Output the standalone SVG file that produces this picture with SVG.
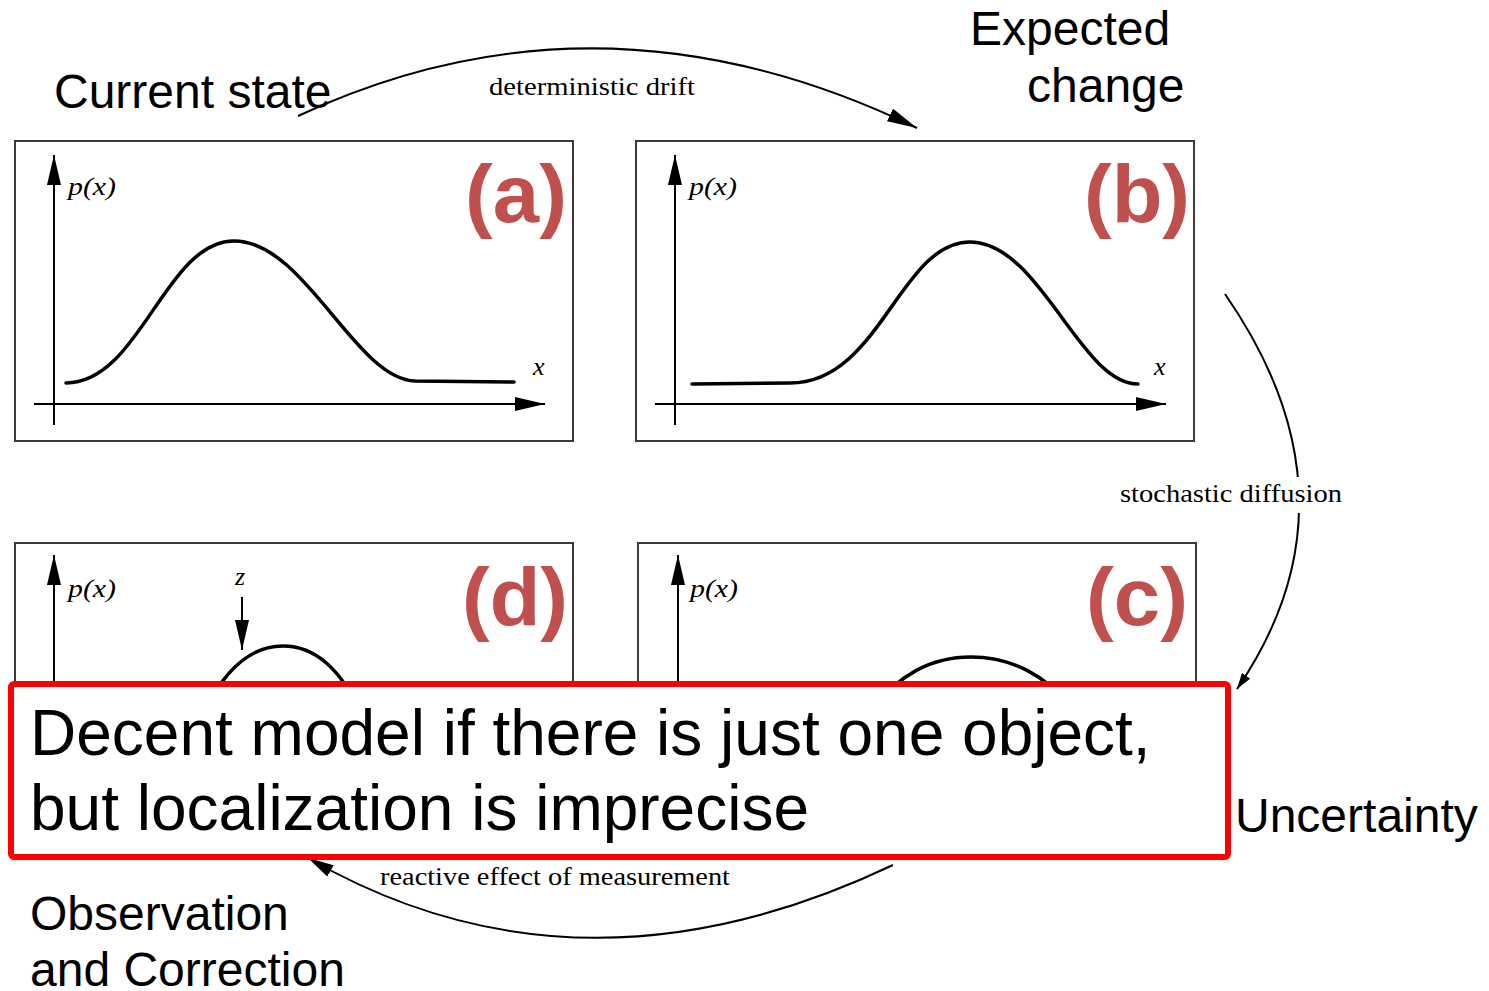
<svg xmlns="http://www.w3.org/2000/svg" width="1489" height="991" viewBox="0 0 1489 991">
<style>
.bg{fill:#ffffff}
.panel{fill:#ffffff;stroke:#3a3a3a;stroke-width:2}
.axis{fill:none;stroke:#000;stroke-width:2}
.curve{fill:none;stroke:#000;stroke-width:3.5;stroke-linecap:round}
.arc{fill:none;stroke:#000;stroke-width:2}
.big{font-family:"Liberation Sans",Arial,sans-serif;font-size:48px;fill:#000}
.tag{font-family:"Liberation Sans",Arial,sans-serif;font-size:82px;font-weight:bold;fill:#C0504D}
.math{font-family:"Liberation Serif","Times New Roman",serif;font-style:italic;font-size:26px;fill:#000}
.arclabel{font-family:"Liberation Serif","Times New Roman",serif;font-size:26px;fill:#000}
.note{font-family:"Liberation Sans",Arial,sans-serif;font-size:64px;fill:#000}
</style>
<defs>
<marker id="ah" markerUnits="userSpaceOnUse" viewBox="0 0 30 14" refX="30" refY="7" markerWidth="30" markerHeight="14" orient="auto"><path d="M0,0 L30,7 L0,14 z" fill="#000"/></marker>
<marker id="ahs" markerUnits="userSpaceOnUse" viewBox="0 0 16 10" refX="16" refY="5" markerWidth="16" markerHeight="10" orient="auto"><path d="M0,0 L16,5 L0,10 z" fill="#000"/></marker>
<marker id="ahm" markerUnits="userSpaceOnUse" viewBox="0 0 26 13" refX="26" refY="6.5" markerWidth="26" markerHeight="13" orient="auto"><path d="M0,0 L26,6.5 L0,13 z" fill="#000"/></marker>
</defs>
<rect class="bg" x="0" y="0" width="1489" height="991"/>

<g id="panel-a">
<rect class="panel" x="15" y="141" width="558" height="300"/>
<line class="axis" x1="54" y1="425" x2="54" y2="155" marker-end="url(#ah)"/>
<line class="axis" x1="34" y1="404" x2="545" y2="404" marker-end="url(#ah)"/>
<path class="curve" d="M66,383 C140,383 165,241 234,241 C305,241 355,379 415,381 L514,382"/>
<text class="math" x="68" y="195" textLength="48" lengthAdjust="spacingAndGlyphs">p(x)</text>
<text class="math" x="533" y="375">x</text>
<text class="tag" x="465" y="222" textLength="102" lengthAdjust="spacingAndGlyphs">(a)</text>
</g>

<g id="panel-b">
<rect class="panel" x="636" y="141" width="558" height="300"/>
<line class="axis" x1="675" y1="425" x2="675" y2="155" marker-end="url(#ah)"/>
<line class="axis" x1="655" y1="404" x2="1166" y2="404" marker-end="url(#ah)"/>
<path class="curve" d="M692,384 L790,383 C880,383 900,242 970,242 C1040,242 1080,384 1138,384"/>
<text class="math" x="689" y="195" textLength="48" lengthAdjust="spacingAndGlyphs">p(x)</text>
<text class="math" x="1154" y="375">x</text>
<text class="tag" x="1084" y="222" textLength="106" lengthAdjust="spacingAndGlyphs">(b)</text>
</g>

<g id="panel-d">
<rect class="panel" x="15" y="543" width="558" height="300"/>
<line class="axis" x1="54" y1="827" x2="54" y2="555" marker-end="url(#ah)"/>
<path class="curve" d="M205,710 C225,670 250,646 283,646 C316,646 340,670 360,710"/>
<line class="axis" x1="242" y1="597" x2="242" y2="650" marker-end="url(#ah)"/>
<text class="math" x="68" y="597" textLength="48" lengthAdjust="spacingAndGlyphs">p(x)</text>
<text class="math" x="235" y="585">z</text>
<text class="tag" x="462" y="625" textLength="106" lengthAdjust="spacingAndGlyphs">(d)</text>
</g>

<g id="panel-c">
<rect class="panel" x="638" y="543" width="558" height="300"/>
<line class="axis" x1="678" y1="827" x2="678" y2="555" marker-end="url(#ah)"/>
<path class="curve" d="M870,710 C900,675 930,657 971,657 C1012,657 1045,675 1075,710"/>
<text class="math" x="690" y="597" textLength="48" lengthAdjust="spacingAndGlyphs">p(x)</text>
<text class="tag" x="1086" y="625" textLength="102" lengthAdjust="spacingAndGlyphs">(c)</text>
</g>

<g id="connectors">
<path class="arc" d="M298,116 Q600,-25 917,128" marker-end="url(#ah)"/>
<text class="arclabel" x="489" y="95" textLength="206" lengthAdjust="spacingAndGlyphs">deterministic drift</text>
<path class="arc" d="M1225,294 Q1367,499 1237,689" marker-end="url(#ahs)"/>
<rect x="1112" y="477" width="236" height="36" fill="#fff"/>
<text class="arclabel" x="1120" y="502" textLength="222" lengthAdjust="spacingAndGlyphs">stochastic diffusion</text>
<path class="arc" d="M893,865 Q579,1014 308,858" marker-end="url(#ahm)"/>
<text class="arclabel" x="380" y="885" textLength="350" lengthAdjust="spacingAndGlyphs">reactive effect of measurement</text>
</g>

<g id="labels">
<text class="big" x="54" y="108">Current state</text>
<text class="big" x="970" y="45">Expected</text>
<text class="big" x="1027" y="102">change</text>
<text class="big" x="1235" y="832">Uncertainty</text>
<text class="big" x="30" y="930">Observation</text>
<text class="big" x="30" y="986">and Correction</text>
</g>

<g id="note">
<rect x="11" y="684" width="1217" height="173" rx="3" fill="#fff" stroke="#FF0000" stroke-width="6"/>
<text class="note" x="30" y="755">Decent model if there is just one object,</text>
<text class="note" x="30" y="830">but localization is imprecise</text>
</g>
</svg>
